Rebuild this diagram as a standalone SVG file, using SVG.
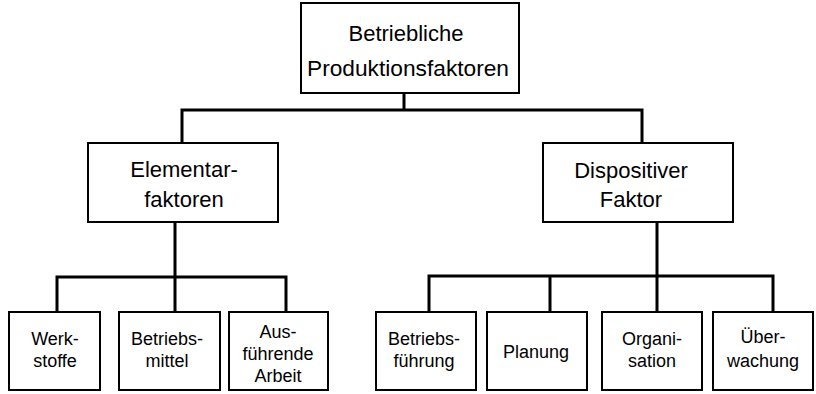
<svg xmlns="http://www.w3.org/2000/svg" width="816" height="394" viewBox="0 0 816 394">
<style>
.box{fill:#fff;stroke:#000;stroke-width:2}
.ln{fill:none;stroke:#000;stroke-width:3;stroke-linecap:square}
text{font-family:"Liberation Sans",Arial,sans-serif;fill:#000;text-anchor:middle}
.t1{font-size:22px}
.t2{font-size:22px}
.t3{font-size:18px}
</style>
<rect width="816" height="394" fill="#fff"/>
<g id="connectors">
<path class="ln" d="M404 93V110M182 110H642M182 110V143M642 110V143"/>
<path class="ln" d="M175 222V277M57 277H286M57 277V312M175 277V312M286 277V312"/>
<path class="ln" d="M657 222V276M429 276H773M429 276V312M550 276V312M657 276V312M773 276V312"/>
</g>
<g id="n-root"><rect class="box" x="301" y="3" width="218" height="90"/>
<text class="t1" x="406" y="41">Betriebliche</text><text class="t1" x="408" y="76" textLength="202" lengthAdjust="spacingAndGlyphs">Produktionsfaktoren</text></g>
<g id="n-elem"><rect class="box" x="88" y="143" width="190" height="79"/>
<text class="t2" x="184" y="177">Elementar-</text><text class="t2" x="184" y="207">faktoren</text></g>
<g id="n-disp"><rect class="box" x="543" y="143" width="190" height="79"/>
<text class="t2" x="631" y="178">Dispositiver</text><text class="t2" x="631" y="207">Faktor</text></g>
<g id="n-werk"><rect class="box" x="9" y="312" width="91" height="78"/>
<text class="t3" x="55" y="345">Werk-</text><text class="t3" x="55" y="367">stoffe</text></g>
<g id="n-bm"><rect class="box" x="119" y="312" width="101" height="78"/>
<text class="t3" x="167" y="345">Betriebs-</text><text class="t3" x="167" y="367">mittel</text></g>
<g id="n-aa"><rect class="box" x="229" y="312" width="99" height="78"/>
<text class="t3" x="278" y="338">Aus-</text><text class="t3" x="278" y="360">führende</text><text class="t3" x="278" y="382">Arbeit</text></g>
<g id="n-bf"><rect class="box" x="376" y="312" width="100" height="78"/>
<text class="t3" x="424" y="345">Betriebs-</text><text class="t3" x="424" y="367">führung</text></g>
<g id="n-pl"><rect class="box" x="487" y="312" width="100" height="78"/>
<text class="t3" x="536" y="358">Planung</text></g>
<g id="n-org"><rect class="box" x="602" y="312" width="100" height="78"/>
<text class="t3" x="652" y="345">Organi-</text><text class="t3" x="652" y="367">sation</text></g>
<g id="n-ub"><rect class="box" x="713" y="312" width="100" height="78"/>
<text class="t3" x="763" y="343">Über-</text><text class="t3" x="763" y="367">wachung</text></g>
</svg>
